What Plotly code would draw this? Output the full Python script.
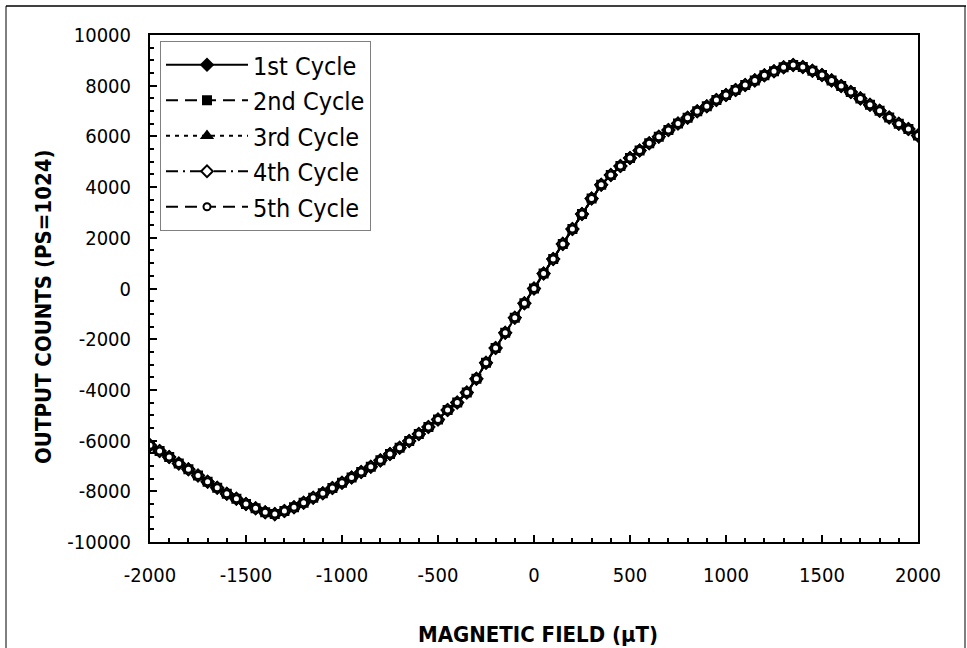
import plotly.graph_objects as go

# Magnetic field (µT), one reading every 50 µT
field_ut = [
    -2000, -1950, -1900, -1850, -1800, -1750, -1700, -1650, -1600, -1550,
    -1500, -1450, -1400, -1350, -1300, -1250, -1200, -1150, -1100, -1050,
    -1000, -950, -900, -850, -800, -750, -700, -650, -600, -550,
    -500, -450, -400, -350, -300, -250, -200, -150, -100, -50,
    0,
    50, 100, 150, 200, 250, 300, 350, 400, 450, 500,
    550, 600, 650, 700, 750, 800, 850, 900, 950, 1000,
    1050, 1100, 1150, 1200, 1250, 1300, 1350, 1400, 1450, 1500,
    1550, 1600, 1650, 1700, 1750, 1800, 1850, 1900, 1950, 2000,
]

# Output counts (PS=1024); the five cycles overlap
cycle_1_counts = [
    -6180, -6410, -6650, -6900, -7130, -7380, -7620, -7860, -8100, -8290,
    -8500, -8670, -8830, -8900, -8780, -8630, -8450, -8250, -8080, -7870,
    -7660, -7460, -7240, -7030, -6780, -6530, -6280, -6020, -5740, -5460,
    -5170, -4790, -4500, -4100, -3560, -2930, -2350, -1750, -1150, -580,
    0,
    590, 1160, 1760, 2350, 2940, 3550, 4090, 4480, 4830, 5150,
    5440, 5730, 5990, 6250, 6510, 6740, 6990, 7190, 7440, 7630,
    7830, 8030, 8210, 8410, 8570, 8730, 8820, 8740, 8590, 8420,
    8210, 7990, 7750, 7500, 7250, 7010, 6750, 6500, 6290, 6040,
]
cycle_2_counts = list(cycle_1_counts)
cycle_3_counts = list(cycle_1_counts)
cycle_4_counts = list(cycle_1_counts)
cycle_5_counts = list(cycle_1_counts)

series_names = ["1st Cycle", "2nd Cycle", "3rd Cycle", "4th Cycle", "5th Cycle"]
series_values = [cycle_1_counts, cycle_2_counts, cycle_3_counts, cycle_4_counts, cycle_5_counts]

x_tick_values = [-2000, -1500, -1000, -500, 0, 500, 1000, 1500, 2000]
x_tick_labels = ["-2000", "-1500", "-1000", "-500", "0", "500", "1000", "1500", "2000"]
y_tick_values = [-10000, -8000, -6000, -4000, -2000, 0, 2000, 4000, 6000, 8000, 10000]
y_tick_labels = ["-10000", "-8000", "-6000", "-4000", "-2000", "0",
                 "2000", "4000", "6000", "8000", "10000"]

FONT = "DejaVu Sans Condensed, Tahoma, DejaVu Sans, sans-serif"

styles = [
    dict(dash="solid", symbol="diamond", size=9, fill="black"),
    dict(dash="12px,7px", symbol="square", size=8, fill="black"),
    dict(dash="4px,5px", symbol="triangle-up", size=9, fill="black"),
    dict(dash="12px,5px,2px,5px", symbol="diamond", size=9, fill="white"),
    dict(dash="12px,7px", symbol="circle", size=7, fill="white"),
]

fig = go.Figure()
for name, vals, st in zip(series_names, series_values, styles):
    fig.add_trace(go.Scatter(
        x=field_ut, y=vals, name=name, mode="lines+markers",
        line=dict(color="black", width=2, dash=st["dash"]),
        marker=dict(symbol=st["symbol"], size=st["size"], color=st["fill"],
                    line=dict(color="black", width=2)),
    ))

W, H = 967, 648
L, R, T, B = 150, 49, 35, 106
pw, ph = W - L - R, H - T - B

def px(xp):
    return (xp - L) / pw

def py(yp):
    return (H - B - yp) / ph

axis_common = dict(
    showgrid=False, zeroline=False, showline=True, linewidth=2, linecolor="black",
    mirror=True, ticks="inside", ticklen=7, tickwidth=2, tickcolor="black",
    tickfont=dict(family=FONT, size=20, color="black"),
)

fig.update_xaxes(
    range=[-2000, 2000], tickvals=x_tick_values, ticktext=x_tick_labels,
    ticklabelstandoff=14,
    minor=dict(ticks="inside", dtick=100, ticklen=4, tickwidth=2, tickcolor="black"),
    **axis_common,
)
fig.update_yaxes(
    range=[-10000, 10000], tickvals=y_tick_values, ticktext=y_tick_labels,
    ticklabelstandoff=13,
    minor=dict(ticks="inside", dtick=500, ticklen=4, tickwidth=2, tickcolor="black"),
    **axis_common,
)

fig.update_layout(
    width=W, height=H, autosize=False,
    margin=dict(l=L, r=R, t=T, b=B, pad=0),
    paper_bgcolor="white", plot_bgcolor="white",
    font=dict(family=FONT, color="black"),
    showlegend=True,
    legend=dict(
        x=px(160), y=py(41), xanchor="left", yanchor="top",
        bgcolor="white", bordercolor="#808080", borderwidth=1,
        font=dict(family=FONT, size=25, color="black"),
        itemwidth=82, tracegroupgap=0,
    ),
    annotations=[
        dict(text="<b>MAGNETIC FIELD (µT)</b>", x=px(538), y=py(634),
             xref="paper", yref="paper", xanchor="center", yanchor="middle",
             showarrow=False, font=dict(family=FONT, size=22, color="black")),
        dict(text="<b>OUTPUT COUNTS (PS=1024)</b>", x=px(43), y=py(307),
             xref="paper", yref="paper", xanchor="center", yanchor="middle",
             textangle=-90, showarrow=False,
             font=dict(family=FONT, size=22, color="black")),
    ],
    shapes=[
        dict(type="line", xref="paper", yref="paper", x0=px(6), x1=px(966),
             y0=py(6), y1=py(6), line=dict(color="#404040", width=2)),
        dict(type="line", xref="paper", yref="paper", x0=px(6), x1=px(6),
             y0=py(6), y1=py(660), line=dict(color="black", width=1)),
        dict(type="line", xref="paper", yref="paper", x0=px(965), x1=px(965),
             y0=py(6), y1=py(660), line=dict(color="black", width=1)),
    ],
)

fig.write_html("out.html", config={"displayModeBar": False},
               post_script="document.body.style.margin='0';")
